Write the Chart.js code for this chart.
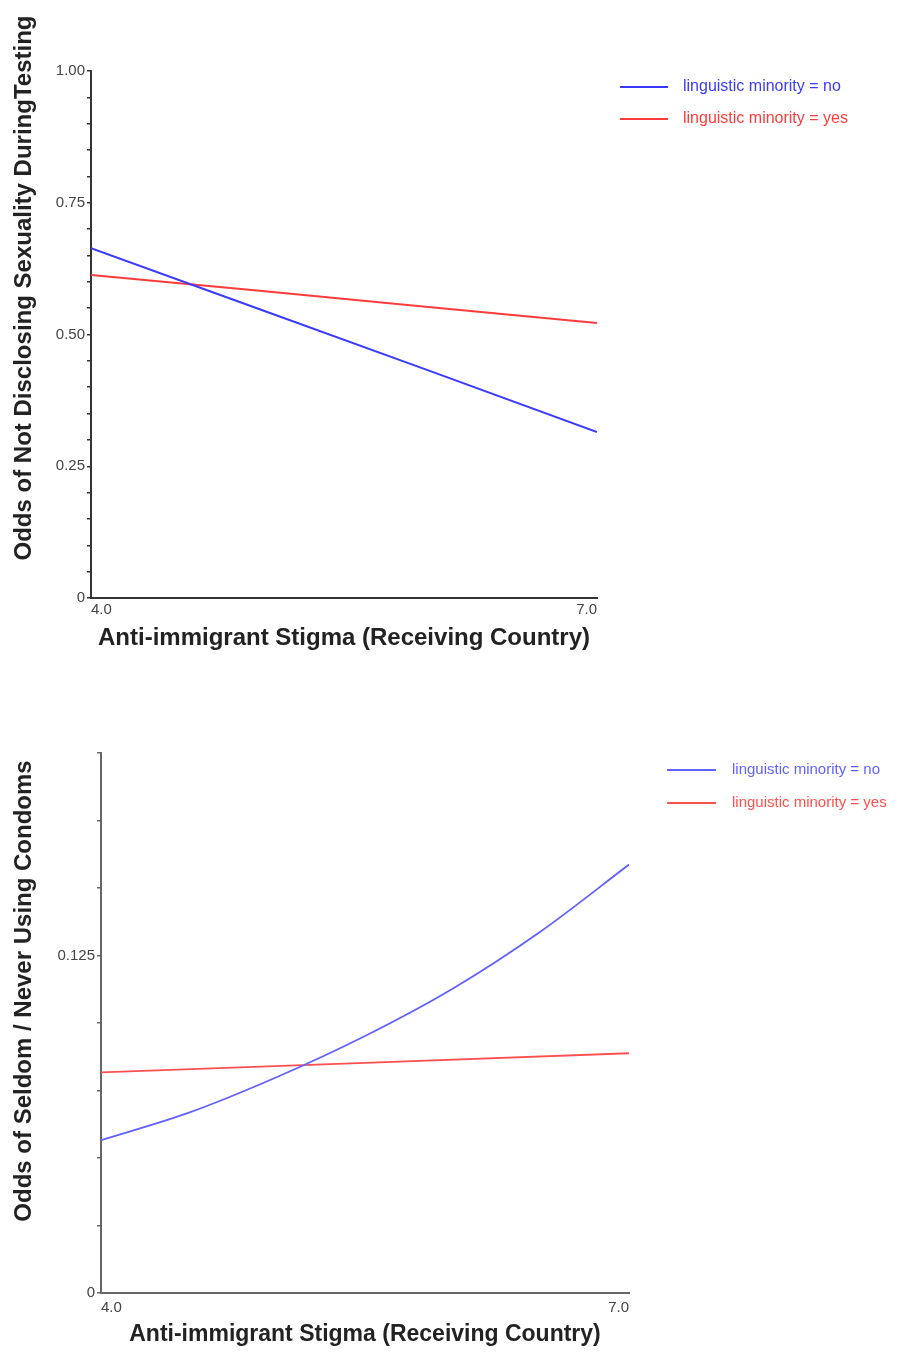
<!DOCTYPE html>
<html><head><meta charset="utf-8">
<script src="https://cdn.jsdelivr.net/npm/chart.js@4.4.1/dist/chart.umd.min.js"></script>
<style>body{margin:0;background:#fff;width:897px;height:1353px;overflow:hidden} canvas{position:absolute;left:0}</style>
</head><body>
<canvas id="c1" width="897" height="680" style="top:0"></canvas>
<canvas id="c2" width="897" height="673" style="top:680px"></canvas>
<script>
// ---- data ----
const seriesLabels = ['linguistic minority = no', 'linguistic minority = yes'];
const disclosureX = [4.0, 5.0, 6.0, 7.0];
const disclosureNo = [0.664, 0.548, 0.432, 0.315];
const disclosureYes = [0.613, 0.583, 0.552, 0.522];
const condomNoX = [4.0, 4.5, 5.0, 5.5, 6.0, 6.5, 7.0];
const condomNo = [0.0566, 0.0668, 0.0800, 0.0952, 0.1128, 0.1340, 0.1587];
const condomYesX = [4.0, 5.5, 7.0];
const condomYes = [0.0817, 0.0852, 0.0888];
const xTickValues = [4.0, 7.0];
const title1 = 'Odds of Not Disclosing Sexuality DuringTesting';
const title2 = 'Odds of Seldom / Never Using Condoms';
const xTitle = 'Anti-immigrant Stigma (Receiving Country)';

const FONT = '"Liberation Sans", Arial, Helvetica, sans-serif';
const pts = (xs, ys) => xs.map((x, i) => ({x, y: ys[i]}));

const annot = {
  id: 'annot',
  afterDraw(chart, args, o) {
    const ctx = chart.ctx;
    ctx.save();
    ctx.translate(o.titleX, o.titleY);
    ctx.rotate(-Math.PI / 2);
    ctx.font = 'bold ' + o.titleSize + 'px ' + FONT;
    ctx.fillStyle = '#222';
    ctx.textAlign = 'center';
    ctx.textBaseline = 'middle';
    ctx.fillText(o.title, 0, 0);
    ctx.restore();
    chart.data.datasets.forEach((ds, i) => {
      const y = o.legY + i * o.legGap;
      ctx.save();
      ctx.strokeStyle = ds.borderColor;
      ctx.lineWidth = ds.borderWidth;
      ctx.beginPath();
      ctx.moveTo(o.legX, y);
      ctx.lineTo(o.legX + o.legLen, y);
      ctx.stroke();
      ctx.fillStyle = ds.borderColor;
      ctx.font = o.legSize + 'px ' + FONT;
      ctx.textAlign = 'left';
      ctx.textBaseline = 'middle';
      ctx.fillText(ds.label, o.textX, y);
      ctx.restore();
    });
  }
};

function makeChart(id, datasets, yOpts, geo) {
  return new Chart(document.getElementById(id), {
    type: 'line',
    data: {datasets},
    options: {
      responsive: false,
      animation: false,
      events: [],
      layout: {padding: {left: 0, top: geo.top, right: geo.right, bottom: geo.bottom}},
      elements: {point: {radius: 0}, line: {tension: 0}},
      plugins: {
        legend: {display: false},
        tooltip: {enabled: false},
        annot: geo.annot
      },
      scales: {
        x: {
          type: 'linear', min: 4, max: 7,
          afterBuildTicks: s => { s.ticks = xTickValues.map(v => ({value: v})); },
          afterFit: s => { s.height = 55; },
          grid: {display: false, drawTicks: false},
          border: {display: true, color: geo.axisColor, width: 2},
          ticks: {align: 'inner', padding: geo.xTickPad, color: '#444', font: {family: FONT, size: 15},
                  callback: v => Number(v).toFixed(1), autoSkip: false, maxRotation: 0},
          title: {display: true, text: xTitle, color: '#222', padding: 0,
                  font: {family: FONT, size: geo.xTitleSize, weight: 'bold'}}
        },
        y: Object.assign({
          type: 'linear', min: 0,
          afterFit: s => { s.width = geo.left; },
          grid: {display: true, drawOnChartArea: false, drawTicks: true, tickLength: 4, color: geo.axisColor, lineWidth: 1.5},
          border: {display: true, color: geo.axisColor, width: 2},
        }, yOpts)
      }
    },
    plugins: [annot]
  });
}

makeChart('c1', [
  {label: seriesLabels[0], data: pts(disclosureX, disclosureNo), borderColor: '#3a3aff', borderWidth: 2},
  {label: seriesLabels[1], data: pts(disclosureX, disclosureYes), borderColor: '#ff3b3b', borderWidth: 2}
], {
  max: 1,
  ticks: {stepSize: 0.05, autoSkip: false, padding: 2, color: '#444', font: {family: FONT, size: 15},
          callback: v => { const k = Math.round(v / 0.05); if (k === 0) return '0'; return k % 5 === 0 ? (k * 0.05).toFixed(2) : ''; }}
}, {
  left: 91, top: 71, right: 300, bottom: 27, axisColor: '#333', xTickPad: 3, xTitleSize: 24,
  annot: {title: title1, titleX: 24, titleY: 288, titleSize: 24, legX: 620, legLen: 48, textX: 683, legY: 87, legGap: 32, legSize: 16}
});

makeChart('c2', [
  {label: seriesLabels[0], data: pts(condomNoX, condomNo), borderColor: '#6161ff', borderWidth: 1.8, cubicInterpolationMode: 'monotone'},
  {label: seriesLabels[1], data: pts(condomYesX, condomYes), borderColor: '#ff5050', borderWidth: 1.8}
], {
  max: 0.2,
  ticks: {stepSize: 0.025, autoSkip: false, padding: 2, color: '#444', font: {family: FONT, size: 15},
          callback: v => { const k = Math.round(v / 0.025); if (k === 0) return '0'; return k === 5 ? '0.125' : ''; }}
}, {
  left: 101, top: 73, right: 268, bottom: 5, axisColor: '#666', xTickPad: 6, xTitleSize: 23,
  annot: {title: title2, titleX: 24, titleY: 311, titleSize: 24, legX: 667, legLen: 49, textX: 732, legY: 90, legGap: 33, legSize: 15}
});
</script>
</body></html>
